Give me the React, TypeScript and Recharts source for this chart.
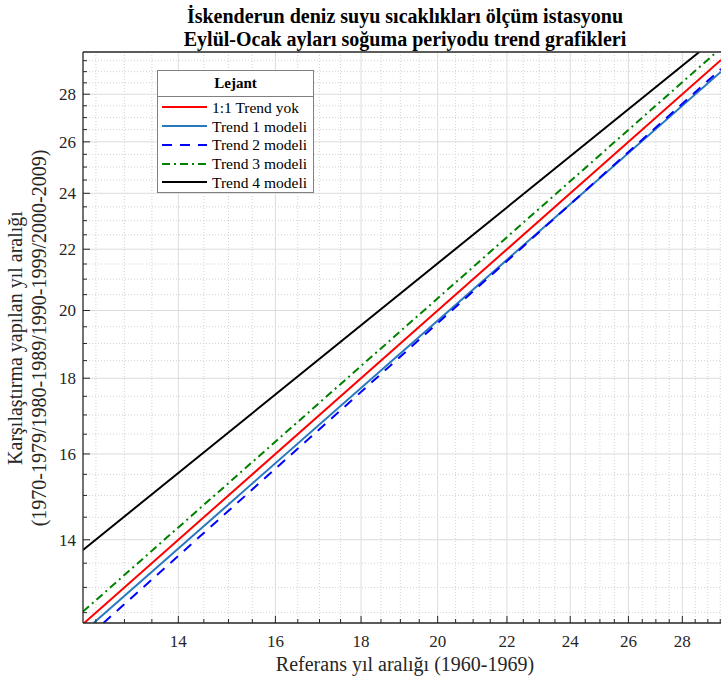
import React from 'react';
import { LineChart, Line, XAxis, YAxis, CartesianGrid, Legend } from 'recharts';

// ---- data ----
const xDomain = [12.28, 29.53];
const yDomain = [12.3, 29.9];

const majorTicks = [14, 16, 18, 20, 22, 24, 26, 28];
const minorTicks = [12.5, 13, 13.5, 14.5, 15, 15.5, 16.5, 17, 17.5, 18.5, 19, 19.5, 20.5, 21, 21.5, 22.5, 23, 23.5, 24.5, 25, 25.5, 26.5, 27, 27.5, 28.5, 29, 29.5];
const allTicks = [12.5, 13, 13.5, 14, 14.5, 15, 15.5, 16, 16.5, 17, 17.5, 18, 18.5, 19, 19.5, 20, 20.5, 21, 21.5, 22, 22.5, 23, 23.5, 24, 24.5, 25, 25.5, 26, 26.5, 27, 27.5, 28, 28.5, 29, 29.5];

const seriesNames = ['1:1 Trend yok', 'Trend 1 modeli', 'Trend 2 modeli', 'Trend 3 modeli', 'Trend 4 modeli'];

const noTrendX = [12.28, 29.53];
const noTrendY = [12.28, 29.53];
const trend1X = [12.46, 29.53];
const trend1Y = [12.3, 29.0];
const trend2X = [12.63, 29.53];
const trend2Y = [12.3, 29.12];
const trend3X = [12.28, 29.35];
const trend3Y = [12.52, 29.9];
const trend4X = [12.28, 28.66];
const trend4Y = [13.78, 29.9];

// ---- styles ----
const FONT = "'Liberation Serif', 'Times New Roman', serif";
const AXIS = '#262626';

const toPoints = (xs: number[], ys: number[]) => xs.map((x, i) => ({ x, y: ys[i] }));

const series = [
  { name: seriesNames[0], data: toPoints(noTrendX, noTrendY), color: '#ff0000', dash: undefined as string | undefined },
  { name: seriesNames[1], data: toPoints(trend1X, trend1Y), color: '#2878be', dash: undefined },
  { name: seriesNames[2], data: toPoints(trend2X, trend2Y), color: '#0000ff', dash: '10 8' },
  { name: seriesNames[3], data: toPoints(trend3X, trend3Y), color: '#008000', dash: '8 4 2 4' },
  { name: seriesNames[4], data: toPoints(trend4X, trend4Y), color: '#000000', dash: undefined },
];

const scaleOf = (axis: any) => {
  const s = axis && axis.scale;
  if (!s) return null;
  return (v: number) => (typeof s === 'function' ? s(v) : s.map ? s.map(v) : NaN);
};

const vGen = (values: number[]) => (props: any) => {
  const f = scaleOf(props.xAxis);
  if (!f) return [];
  return values.map(f).filter((n: number) => Number.isFinite(n));
};
const hGen = (values: number[]) => (props: any) => {
  const f = scaleOf(props.yAxis);
  if (!f) return [];
  return values.map(f).filter((n: number) => Number.isFinite(n));
};

const BottomTick = (props: any) => {
  const { x, y, payload } = props;
  const v = payload.value;
  const major = majorTicks.includes(v);
  return (
    <g>
      <line x1={x} x2={x} y1={y} y2={y - (major ? 7 : 4)} stroke={AXIS} strokeWidth={1} />
      {major && (
        <text x={x} y={y + 24} textAnchor="middle" fontSize={17} fontFamily={FONT} fill={AXIS}>
          {v}
        </text>
      )}
    </g>
  );
};

const TopTick = (props: any) => {
  const { x, y, payload } = props;
  const major = majorTicks.includes(payload.value);
  return <line x1={x} x2={x} y1={y} y2={y + (major ? 7 : 4)} stroke={AXIS} strokeWidth={1} />;
};

const LeftTick = (props: any) => {
  const { x, y, payload } = props;
  const v = payload.value;
  const major = majorTicks.includes(v);
  return (
    <g>
      <line x1={x} x2={x + (major ? 7 : 4)} y1={y} y2={y} stroke={AXIS} strokeWidth={1} />
      {major && (
        <text x={x - 7} y={y + 6} textAnchor="end" fontSize={17} fontFamily={FONT} fill={AXIS}>
          {v}
        </text>
      )}
    </g>
  );
};

const LegendBox = () => (
  <div
    style={{
      width: 157,
      height: 123,
      boxSizing: 'border-box',
      border: '1.5px solid #808080',
      background: '#fff',
      fontFamily: FONT,
      color: '#000',
    }}
  >
    <div
      style={{
        height: 25,
        borderBottom: '1.5px solid #808080',
        textAlign: 'center',
        fontWeight: 'bold',
        fontSize: 15,
        lineHeight: '25px',
      }}
    >
      Lejant
    </div>
    <div style={{ paddingTop: 1 }}>
      {series.map((s) => (
        <div key={s.name} style={{ height: 18.75, display: 'flex', alignItems: 'center' }}>
          <svg width={45} height={10} style={{ marginLeft: 4, display: 'block' }}>
            <line x1={0} x2={45} y1={5} y2={5} stroke={s.color} strokeWidth={2} strokeDasharray={s.dash} />
          </svg>
          <span style={{ marginLeft: 5, fontSize: 15.5, lineHeight: '17px', whiteSpace: 'nowrap' }}>{s.name}</span>
        </div>
      ))}
    </div>
  </div>
);

export default function App() {
  return (
    <div style={{ position: 'absolute', left: 0, top: 0, width: 721, height: 682, background: '#fff', overflow: 'hidden' }}>
      <LineChart width={721} height={682} margin={{ top: 51, right: 0, bottom: 58, left: 82 }}>
        <CartesianGrid
          xAxisId="b"
          yAxisId="l"
          stroke="#d2d2d2"
          strokeDasharray="1 2"
          verticalCoordinatesGenerator={vGen(minorTicks)}
          horizontalCoordinatesGenerator={hGen(minorTicks)}
        />
        <CartesianGrid
          xAxisId="b"
          yAxisId="l"
          stroke="#dcdcdc"
          verticalCoordinatesGenerator={vGen(majorTicks)}
          horizontalCoordinatesGenerator={hGen(majorTicks)}
        />
        <XAxis
          xAxisId="b"
          dataKey="x"
          type="number"
          scale="log"
          domain={xDomain}
          allowDataOverflow
          ticks={allTicks}
          interval={0}
          height={1}
          tickSize={0}
          tickMargin={0}
          tickLine={false}
          tick={BottomTick}
          axisLine={{ stroke: AXIS, strokeWidth: 1.3 }}
        />
        <XAxis
          xAxisId="t"
          orientation="top"
          type="number"
          scale="log"
          domain={xDomain}
          allowDataOverflow
          ticks={allTicks}
          interval={0}
          height={1}
          tickSize={0}
          tickMargin={0}
          tickLine={false}
          tick={TopTick}
          axisLine={{ stroke: AXIS, strokeWidth: 1.3 }}
        />
        <YAxis
          yAxisId="l"
          type="number"
          scale="log"
          domain={yDomain}
          allowDataOverflow
          ticks={allTicks}
          interval={0}
          width={1}
          tickSize={0}
          tickMargin={0}
          tickLine={false}
          tick={LeftTick}
          axisLine={{ stroke: AXIS, strokeWidth: 1.3 }}
        />
        {series.map((s) => (
          <Line
            key={s.name}
            xAxisId="b"
            yAxisId="l"
            data={s.data}
            dataKey="y"
            name={s.name}
            type="linear"
            stroke={s.color}
            strokeWidth={2}
            strokeDasharray={s.dash}
            dot={false}
            activeDot={false}
            isAnimationActive={false}
          />
        ))}
        <Legend
          layout="vertical"
          align="center"
          verticalAlign="middle"
          wrapperStyle={{ left: 157, top: 70, width: 157, height: 123 }}
          content={() => <LegendBox />}
        />
      </LineChart>
      <svg
        width={721}
        height={682}
        style={{ position: 'absolute', left: 0, top: 0, pointerEvents: 'none' }}
        fontFamily={FONT}
      >
        <text x={405} y={23} textAnchor="middle" fontSize={20} fontWeight="bold" fill="#000">
          İskenderun deniz suyu sıcaklıkları ölçüm istasyonu
        </text>
        <text x={405} y={46} textAnchor="middle" fontSize={20} fontWeight="bold" fill="#000">
          Eylül-Ocak ayları soğuma periyodu trend grafikleri
        </text>
        <text x={405} y={671} textAnchor="middle" fontSize={20} fill={AXIS}>
          Referans yıl aralığı (1960-1969)
        </text>
        <text transform="translate(22,338) rotate(-90)" textAnchor="middle" fontSize={20} fill={AXIS}>
          Karşılaştırma yapılan yıl aralığı
        </text>
        <text transform="translate(46,338) rotate(-90)" textAnchor="middle" fontSize={20} fill={AXIS}>
          (1970-1979/1980-1989/1990-1999/2000-2009)
        </text>
      </svg>
    </div>
  );
}
